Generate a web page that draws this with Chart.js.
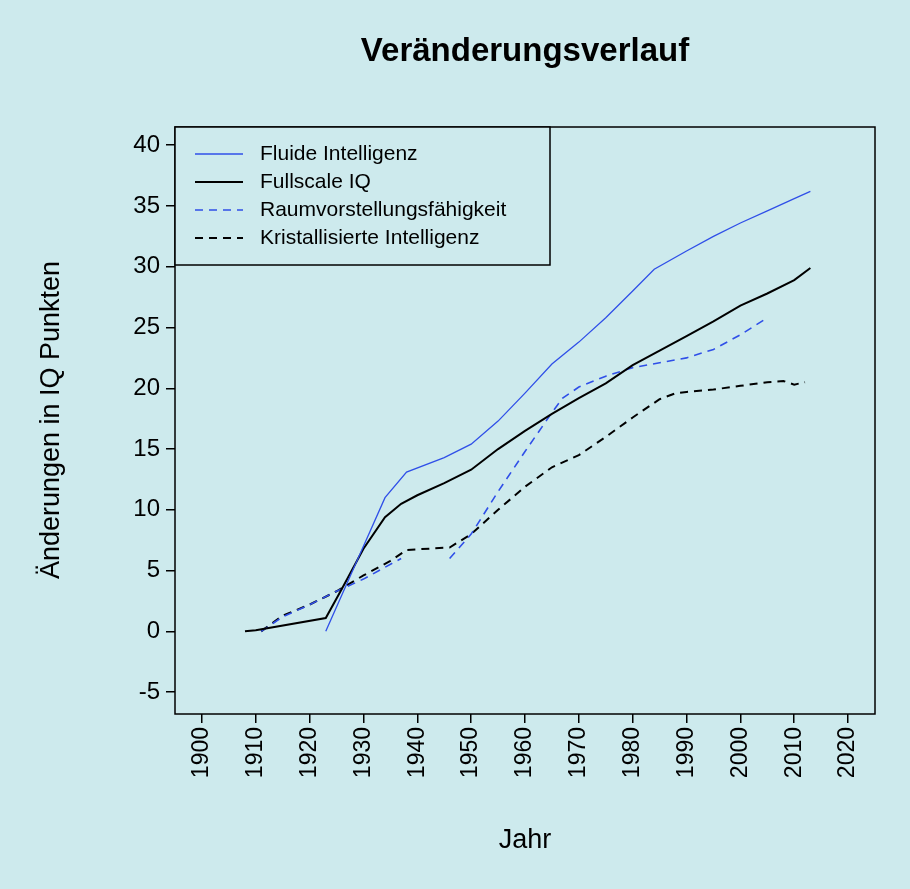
<!DOCTYPE html>
<html>
<head>
<meta charset="utf-8">
<script src="https://cdn.jsdelivr.net/npm/chart.js@4"></script>
<style>
  html, body { margin: 0; padding: 0; background: #cdeaed; }
  #wrap { width: 910px; height: 889px; }
</style>
</head>
<body>
<div id="wrap"><canvas id="chart"></canvas></div>
<script>
const seriesNames = ["Fluide Intelligenz", "Fullscale IQ", "Raumvorstellungsfähigkeit", "Kristallisierte Intelligenz"];

const fluideYears  = [1923, 1928, 1934, 1938, 1945, 1950, 1955, 1960, 1965, 1970, 1975, 1980, 1984, 1990, 1995, 2000, 2005, 2010, 2013];
const fluideValues = [0, 5, 11, 13.1, 14.3, 15.4, 17.3, 19.6, 22, 23.8, 25.8, 28, 29.8, 31.3, 32.5, 33.6, 34.6, 35.6, 36.2];

const fullYears  = [1908, 1910, 1923, 1926, 1930, 1934, 1937, 1940, 1945, 1950, 1955, 1960, 1965, 1970, 1975, 1980, 1985, 1990, 1995, 2000, 2005, 2010, 2013];
const fullValues = [0, 0.1, 1.1, 3.5, 6.8, 9.4, 10.5, 11.2, 12.2, 13.3, 15, 16.5, 17.9, 19.2, 20.4, 21.9, 23.1, 24.3, 25.5, 26.8, 27.8, 28.9, 29.9];

// null marks the gap between 1937 and 1946
const raumYears  = [1911, 1915, 1920, 1925, 1930, 1937, 1941, 1946, 1950, 1955, 1960, 1965, 1967, 1970, 1975, 1980, 1985, 1990, 1995, 2000, 2005];
const raumValues = [0, 1.2, 2.2, 3.3, 4.3, 6.0, null, 6.0, 8, 11.5, 14.8, 18, 19.2, 20.1, 21, 21.7, 22.1, 22.5, 23.2, 24.4, 25.8];

const kristYears  = [1911, 1915, 1920, 1925, 1930, 1935, 1938, 1946, 1950, 1955, 1960, 1965, 1970, 1975, 1980, 1985, 1988, 1990, 1995, 2000, 2005, 2008, 2010, 2012];
const kristValues = [0, 1.3, 2.2, 3.3, 4.6, 5.8, 6.7, 6.9, 8, 10, 11.9, 13.5, 14.5, 16, 17.6, 19.1, 19.6, 19.7, 19.9, 20.2, 20.5, 20.6, 20.3, 20.5];

const xTicks = [1900, 1905, 1910, 1915, 1920, 1925, 1930, 1935, 1940, 1945, 1950, 1955, 1960, 1965, 1970, 1975, 1980, 1985, 1990, 1995, 2000, 2005, 2010, 2015, 2020];
const yTicks = [-5, 0, 5, 10, 15, 20, 25, 30, 35, 40];

const FONT = "'Liberation Sans', Arial, sans-serif";
const BLUE = "#2f4fe8";

const pts = (xs, ys) => xs.map((x, i) => ({ x, y: ys[i] }));

const rStyle = {
  id: "rStyle",
  afterDraw(chart) {
    const { ctx, chartArea: a } = chart;
    ctx.save();
    ctx.strokeStyle = "#000";
    ctx.lineWidth = 1.5;
    ctx.strokeRect(a.left, a.top, a.right - a.left, a.bottom - a.top);

    ctx.fillStyle = "#000";
    ctx.textAlign = "center";
    ctx.textBaseline = "middle";
    ctx.font = "bold 33px " + FONT;
    ctx.fillText("Veränderungsverlauf", 525, 52);
    ctx.font = "27px " + FONT;
    ctx.fillText("Jahr", 525, 841);
    ctx.save();
    ctx.translate(52, 420);
    ctx.rotate(-Math.PI / 2);
    ctx.fillText("Änderungen in IQ Punkten", 0, 0);
    ctx.restore();

    // legend box
    const lx = a.left, ly = a.top, lw = 375, lh = 138;
    ctx.fillStyle = "#cdeaed";
    ctx.fillRect(lx, ly, lw, lh);
    ctx.strokeRect(lx, ly, lw, lh);
    ctx.font = "21px " + FONT;
    ctx.textAlign = "left";
    chart.data.datasets.forEach((ds, i) => {
      const y = ly + 27 + i * 28;
      ctx.strokeStyle = ds.borderColor;
      ctx.lineWidth = ds.borderWidth;
      ctx.setLineDash(ds.borderDash || []);
      ctx.beginPath();
      ctx.moveTo(lx + 20, y);
      ctx.lineTo(lx + 68, y);
      ctx.stroke();
      ctx.setLineDash([]);
      ctx.fillStyle = "#000";
      ctx.fillText(ds.label, lx + 85, y);
    });
    ctx.restore();
  }
};

new Chart(document.getElementById("chart"), {
  type: "line",
  data: {
    datasets: [
      { label: seriesNames[0], data: pts(fluideYears, fluideValues), borderColor: BLUE, borderWidth: 1.3 },
      { label: seriesNames[1], data: pts(fullYears, fullValues), borderColor: "#000", borderWidth: 2 },
      { label: seriesNames[2], data: pts(raumYears, raumValues), borderColor: BLUE, borderWidth: 1.6, borderDash: [8, 6] },
      { label: seriesNames[3], data: pts(kristYears, kristValues), borderColor: "#000", borderWidth: 2, borderDash: [8, 6] }
    ]
  },
  options: {
    responsive: true,
    maintainAspectRatio: false,
    animation: false,
    spanGaps: false,
    elements: { point: { radius: 0 }, line: { tension: 0 } },
    layout: { padding: { left: 0, right: 35, top: 127, bottom: 0 } },
    plugins: { legend: { display: false }, tooltip: { enabled: false } },
    scales: {
      x: {
        type: "linear", min: 1895, max: 2025,
        afterBuildTicks: s => { s.ticks = xTicks.map(v => ({ value: v })); },
        afterFit: s => { s.height = 175; },
        grid: { drawOnChartArea: false, tickLength: 9, tickColor: "#000", lineWidth: 1.5 },
        border: { display: false },
        ticks: { color: "#000", font: { family: FONT, size: 23 }, minRotation: 90, maxRotation: 90, padding: 4, callback: v => String(v) }
      },
      y: {
        min: -6.8, max: 41.5,
        afterBuildTicks: s => { s.ticks = yTicks.map(v => ({ value: v })); },
        afterFit: s => { s.width = 175; },
        grid: { drawOnChartArea: false, tickLength: 9, tickColor: "#000", lineWidth: 1.5 },
        border: { display: false },
        ticks: { color: "#000", font: { family: FONT, size: 24 }, padding: 6, callback: v => String(v) }
      }
    }
  },
  plugins: [rStyle]
});
</script>
</body>
</html>
